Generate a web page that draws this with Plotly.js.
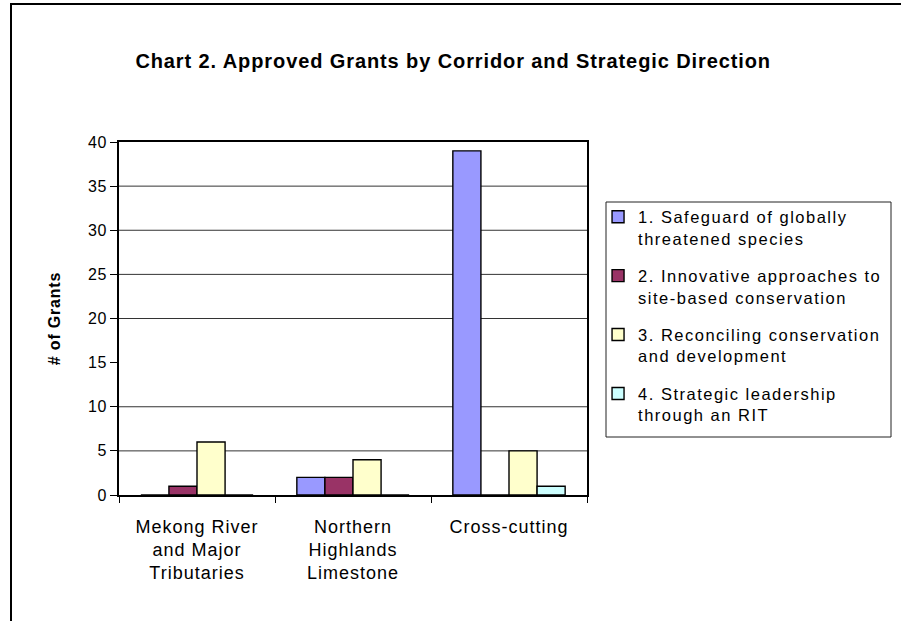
<!DOCTYPE html>
<html>
<head>
<meta charset="utf-8">
<script src="https://cdn.plot.ly/plotly-3.0.1.min.js"></script>
<style>
  html, body { margin: 0; padding: 0; background: #fff; }
  #wrap { position: relative; width: 901px; height: 621px; overflow: hidden; }
  #chart { width: 901px; height: 621px; }
  #frame { position: absolute; left: 10px; top: 3px; width: 1000px; height: 1000px;
           border-left: 2px solid #000; border-top: 2px solid #000; pointer-events: none; }
  .gtitle { letter-spacing: 0.9px; }
  .legendtext { letter-spacing: 1.5px; }
  .xtick text { letter-spacing: 1px; }
  .ytick text { letter-spacing: 0.5px; }
  .ytitle { letter-spacing: 0.8px; }
</style>
</head>
<body>
<div id="wrap">
  <div id="chart"></div>
  <div id="frame"></div>
</div>
<script>
const categories = [
  "Mekong River<br>and Major<br>Tributaries",
  "Northern<br>Highlands<br>Limestone",
  "Cross-cutting"
];
const seriesNames = [
  "1. Safeguard of globally<br>threatened species",
  "2. Innovative approaches to<br>site-based conservation",
  "3. Reconciling conservation<br>and development",
  "4. Strategic leadership<br>through an RIT"
];
const safeguard = [0, 2, 39];
const innovative = [1, 2, 0];
const reconciling = [6, 4, 5];
const leadership = [0, 0, 1];
const seriesValues = [safeguard, innovative, reconciling, leadership];
const seriesColors = ["#9999FF", "#993366", "#FFFFCC", "#CCFFFF"];
const yTicks = [0, 5, 10, 15, 20, 25, 30, 35, 40];
const gridVals = [5, 10, 20, 25, 30, 35];

const font = "Liberation Sans, Arial, sans-serif";

const traces = seriesValues.map((vals, i) => ({
  type: "bar",
  x: categories,
  y: vals,
  name: seriesNames[i],
  legendgroup: "g" + i,
  marker: { color: seriesColors[i], line: { color: "#000", width: 1.4 } },
  hoverinfo: "x+y"
}));

const shapes = gridVals.map(v => ({
  type: "line", xref: "paper", yref: "y", x0: 0, x1: 1, y0: v, y1: v,
  line: { color: "#333", width: 1 }, layer: "below"
}));
// legend frame
shapes.push({
  type: "rect", xref: "paper", yref: "paper",
  x0: 1.0406, x1: 1.6496, y0: 0.1643, y1: 0.830,
  line: { color: "#222", width: 1 }, fillcolor: "rgba(0,0,0,0)", layer: "above"
});

const layout = {
  width: 901, height: 621,
  margin: { l: 119, r: 314, t: 142, b: 126 },
  paper_bgcolor: "#fff", plot_bgcolor: "#fff",
  font: { family: font, size: 16, color: "#000" },
  title: {
    text: "<b>Chart 2. Approved Grants by Corridor and Strategic Direction</b>",
    font: { family: font, size: 20, color: "#000" },
    x: 0.503, xanchor: "center", y: 0.902, yanchor: "middle"
  },
  barmode: "group",
  bargap: 0.28,
  bargroupgap: 0,
  showlegend: true,
  legend: {
    x: 1.0236, xanchor: "left", y: 0.837, yanchor: "top",
    borderwidth: 0, bgcolor: "rgba(0,0,0,0)",
    font: { family: font, size: 16.5, color: "#000" },
    traceorder: "grouped", tracegroupgap: 13,
    valign: "top",
    itemclick: false, itemdoubleclick: false
  },
  xaxis: {
    type: "category",
    showline: true, linecolor: "#000", linewidth: 2, mirror: true,
    ticks: "outside", tickson: "boundaries", ticklen: 6, tickcolor: "#000", tickwidth: 1,
    tickfont: { family: font, size: 18, color: "#000" },
    ticklabelstandoff: 14,
    showgrid: false, zeroline: false, fixedrange: true
  },
  yaxis: {
    range: [0, 40],
    tickvals: yTicks, ticktext: yTicks.map(String),
    showline: true, linecolor: "#000", linewidth: 2, mirror: true,
    ticks: "outside", ticklen: 7, tickcolor: "#000", tickwidth: 1,
    tickfont: { family: font, size: 16, color: "#000" },
    showgrid: false, zeroline: false, fixedrange: true,
    title: { text: "<b># of Grants</b>", font: { family: font, size: 16, color: "#000" }, standoff: 23 }
  },
  shapes: shapes
};

Plotly.newPlot("chart", traces, layout, { displayModeBar: false, staticPlot: true });
</script>
</body>
</html>
